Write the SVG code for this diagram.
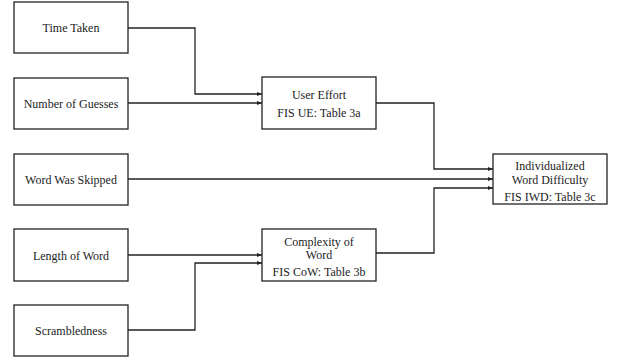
<svg xmlns="http://www.w3.org/2000/svg" width="618" height="360" viewBox="0 0 618 360">
<style>
rect{fill:#fff;stroke:#222;stroke-width:1.3}
text{font-family:"Liberation Serif","Times New Roman",serif;font-size:12px;fill:#222;text-anchor:middle;dominant-baseline:central}
.c{fill:none;stroke:#222;stroke-width:1.3;marker-end:url(#a)}
</style>
<defs>
<marker id="a" markerWidth="5" markerHeight="4" refX="5" refY="2" orient="auto" markerUnits="userSpaceOnUse">
<path d="M0,0 L5,2 L0,4 Z" fill="#222"/>
</marker>
</defs>
<rect x="0" y="0" width="618" height="360" style="stroke:none"/>
<g id="connectors">
<path class="c" d="M128,28 H195 V94 H262"/>
<path class="c" d="M128,103 H262"/>
<path class="c" d="M128,179 H493"/>
<path class="c" d="M128,255 H262"/>
<path class="c" d="M128,330 H195 V263 H262"/>
<path class="c" d="M376,103 H434 V169 H493"/>
<path class="c" d="M376,253 H434 V188 H493"/>
</g>
<g id="time-taken"><rect x="14" y="2" width="114" height="51"/><text x="71" y="28">Time Taken</text></g>
<g id="number-of-guesses"><rect x="14" y="78" width="114" height="51"/><text x="71" y="104">Number of Guesses</text></g>
<g id="word-was-skipped"><rect x="14" y="154" width="114" height="51"/><text x="71" y="180">Word Was Skipped</text></g>
<g id="length-of-word"><rect x="14" y="229" width="114" height="52"/><text x="71" y="256">Length  of Word</text></g>
<g id="scrambledness"><rect x="14" y="305" width="114" height="51"/><text x="71" y="331">Scrambledness</text></g>
<g id="user-effort"><rect x="262" y="77" width="114" height="52"/><text x="319" y="95">User Effort</text><text x="319" y="113">FIS UE: Table 3a</text></g>
<g id="complexity-of-word"><rect x="262" y="229" width="114" height="52"/><text x="319" y="242">Complexity  of</text><text x="319" y="255">Word</text><text x="319" y="272">FIS CoW: Table 3b</text></g>
<g id="individualized-word-difficulty"><rect x="493" y="154" width="114" height="50"/><text x="550" y="166">Individualized</text><text x="550" y="180">Word Difficulty</text><text x="550" y="197">FIS IWD: Table 3c</text></g>
</svg>
